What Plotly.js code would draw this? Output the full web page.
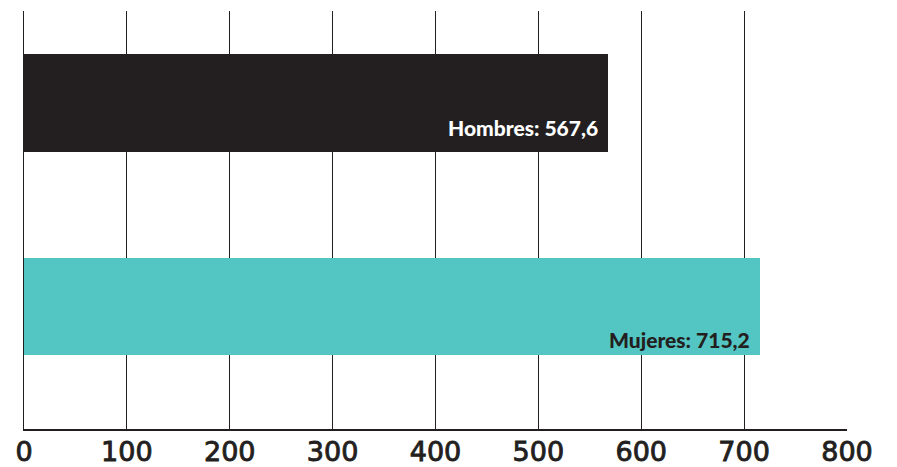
<!DOCTYPE html>
<html>
<head>
<meta charset="utf-8">
<script src="https://cdn.plot.ly/plotly-3.0.1.min.js"></script>
<style>
html,body{margin:0;padding:0;background:#fff;}
#chart{width:897px;height:467px;}
#chart .xtick text{stroke:#231f20;stroke-width:0.9px;}
</style>
</head>
<body>
<div id="chart"></div>
<script>
const categories = ["Mujeres", "Hombres"];
const values = [715.2, 567.6];
const labels = ["Mujeres: 715,2", "Hombres: 567,6"];
const tickValues = [0, 100, 200, 300, 400, 500, 600, 700, 800];
const tickLabels = ["0", "100", "200", "300", "400", "500", "600", "700", "800"];

const barColors = ["#53c5c2", "#231f20"];
const labelColors = ["#231f20", "#ffffff"];
const labelShift = [-33, -25];

const trace = {
  type: "bar",
  orientation: "h",
  y: categories,
  x: values,
  marker: {color: barColors, line: {width: 0}},
  width: 0.48,
  hoverinfo: "none"
};

const annotations = categories.map((c, i) => ({
  x: values[i], y: c, xref: "x", yref: "y",
  text: labels[i],
  showarrow: false, xanchor: "right", yanchor: "middle",
  xshift: -8, yshift: labelShift[i],
  font: {family: "Lato", size: 21, weight: 900, color: labelColors[i]}
}));

const layout = {
  width: 897, height: 467,
  margin: {l: 24, r: 50, t: 11, b: 38},
  paper_bgcolor: "#fff", plot_bgcolor: "#fff",
  showlegend: false,
  xaxis: {
    range: [0, 800], tickvals: tickValues, ticktext: tickLabels,
    showgrid: true, gridcolor: "#231f20", gridwidth: 1.2,
    showline: true, linecolor: "#231f20", linewidth: 1.5,
    zeroline: false, ticks: "", ticklabelstandoff: -2,
    tickfont: {family: "DejaVu Sans", size: 27, color: "#231f20"},
    fixedrange: true
  },
  yaxis: {
    type: "category", categoryorder: "array", categoryarray: categories,
    range: [-0.602, 1.452],
    showticklabels: false, showgrid: false, zeroline: false,
    showline: true, linecolor: "#231f20", linewidth: 1.5, ticks: "",
    fixedrange: true
  },
  annotations: annotations,
  bargap: 0
};

Plotly.newPlot("chart", [trace], layout, {displayModeBar: false, staticPlot: true});
</script>
</body>
</html>
